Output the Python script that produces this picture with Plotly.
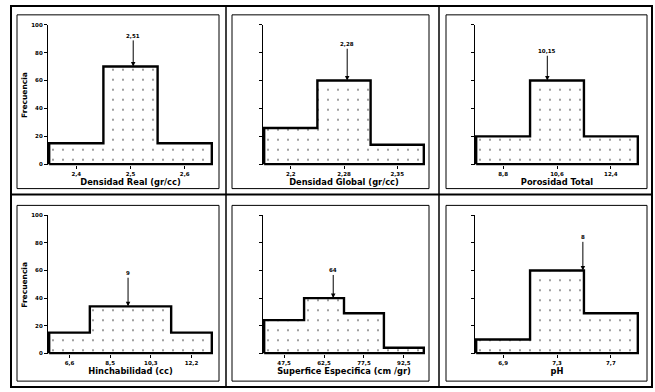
import plotly.graph_objects as go

W, H = 655, 392

titles = ["Densidad Real (gr/cc)", "Densidad Global (gr/cc)", "Porosidad Total",
          "Hinchabilidad (cc)", "Superfice Especifica (cm /gr)", "pH"]
tick_labels = [["2,4", "2,5", "2,6"],
               ["2,2", "2,28", "2,35"],
               ["8,8", "10,6", "12,4"],
               ["6,6", "8,5", "10,3", "12,2"],
               ["47,5", "62,5", "77,5", "92,5"],
               ["6,9", "7,3", "7,7"]]
freqs = [[15, 70, 15],
         [26, 60, 14],
         [20, 60, 20],
         [15, 34, 34, 15],
         [24, 40, 29, 4],
         [10, 60, 29]]
# arrow (mean value) position in bin units, its label and label height
mean_pos = [1.05, 1.06, 0.82, 1.44, 1.23, 1.48]
mean_labels = ["2,51", "2,28", "10,15", "9", "64", "8"]
label_y = [92, 86, 81, 58, 60, 84]
y_ticks = [0, 20, 40, 60, 80, 100]

# layout in pixels (scan geometry)
col_px = [(48, 213), (263, 425), (475, 639)]
row_px = [(164.5, 22), (356, 215)]
box_x = [(17, 219), (232, 429), (446, 647)]
box_y = [(12, 188), (205, 383)]

FONT = "DejaVu Sans"
bold = lambda s: dict(family=FONT, size=s, color="black", weight="bold")


def px_x(p):
    return p / W


def px_y(p):
    return 1 - p / H


fig = go.Figure()
axes = {}
annotations = []
for k in range(6):
    r, c = divmod(k, 3)
    sfx = "" if k == 0 else str(k + 1)
    xr, yr = "x" + sfx, "y" + sfx
    h = freqs[k]
    n = len(h)
    idx = list(range(n))

    fig.add_trace(go.Bar(x=idx, y=h, width=1, xaxis=xr, yaxis=yr, showlegend=False, hoverinfo="skip",
                         marker=dict(color="white", line=dict(width=0),
                                     pattern=dict(shape=".", fgcolor="black", bgcolor="white",
                                                  size=10, solidity=0.03))))
    ox, oy = [-0.5], [0]
    for i, v in enumerate(h):
        ox += [i - 0.5, i + 0.5]
        oy += [v, v]
    ox += [n - 0.5, -0.5]
    oy += [0, 0]
    fig.add_trace(go.Scatter(x=ox, y=oy, mode="lines", xaxis=xr, yaxis=yr, showlegend=False,
                             hoverinfo="skip", line=dict(color="black", width=2.4)))

    x0, x1 = col_px[c]
    yb, yt = row_px[r]
    padx = 1.2 / ((x1 - x0) / n)
    pady = 1.2 / ((yb - yt) / 100)
    axes["xaxis" + sfx] = dict(domain=[px_x(x0), px_x(x1)], range=[-0.5 - padx, n - 0.5 + padx],
                               anchor=yr, tickvals=idx, ticktext=tick_labels[k], ticks="outside",
                               ticklen=3, tickcolor="black", tickwidth=1, showline=False,
                               showgrid=False, zeroline=False, tickfont=bold(5.5),
                               title=dict(text=titles[k], font=bold(8.3), standoff=3))
    axes["yaxis" + sfx] = dict(domain=[px_y(yb), px_y(yt)], range=[-pady, 100], anchor=xr,
                               tickvals=y_ticks, ticks="outside", ticklen=3, tickcolor="black",
                               tickwidth=1, showline=True, linecolor="black", linewidth=1.3,
                               showgrid=False, zeroline=False, showticklabels=(c == 0),
                               tickfont=bold(5.5),
                               title=dict(text="Frecuencia" if c == 0 else "", font=bold(7.5),
                                          standoff=2))
    top = h[int(round(mean_pos[k]))]
    annotations.append(dict(x=mean_pos[k], y=top, ax=mean_pos[k], ay=label_y[k], xref=xr, yref=yr,
                            axref=xr, ayref=yr, text=mean_labels[k], showarrow=True, arrowhead=2,
                            arrowsize=0.9, arrowwidth=1, arrowcolor="black", font=bold(5.5)))

shapes = [dict(type="rect", xref="paper", yref="paper", x0=px_x(11), x1=px_x(652),
               y0=px_y(389), y1=px_y(3), line=dict(color="black", width=2))]
for xv in (226, 439):
    shapes.append(dict(type="line", xref="paper", yref="paper", x0=px_x(xv), x1=px_x(xv),
                       y0=px_y(389), y1=px_y(3), line=dict(color="black", width=1.5)))
shapes.append(dict(type="line", xref="paper", yref="paper", x0=px_x(11), x1=px_x(652),
                   y0=px_y(194), y1=px_y(194), line=dict(color="black", width=2)))
for (by0, by1) in box_y:
    for (bx0, bx1) in box_x:
        shapes.append(dict(type="rect", xref="paper", yref="paper", x0=px_x(bx0), x1=px_x(bx1),
                           y0=px_y(by1), y1=px_y(by0), line=dict(color="black", width=1)))

fig.update_layout(width=W, height=H, margin=dict(l=0, r=0, t=0, b=0), paper_bgcolor="white",
                  plot_bgcolor="white", bargap=0, shapes=shapes, annotations=annotations,
                  font=bold(6), **axes)
# the page's default body margin would shift the figure by 8px
fig.write_html("out.html", config=dict(displayModeBar=False),
               post_script="document.body.style.margin='0';")
